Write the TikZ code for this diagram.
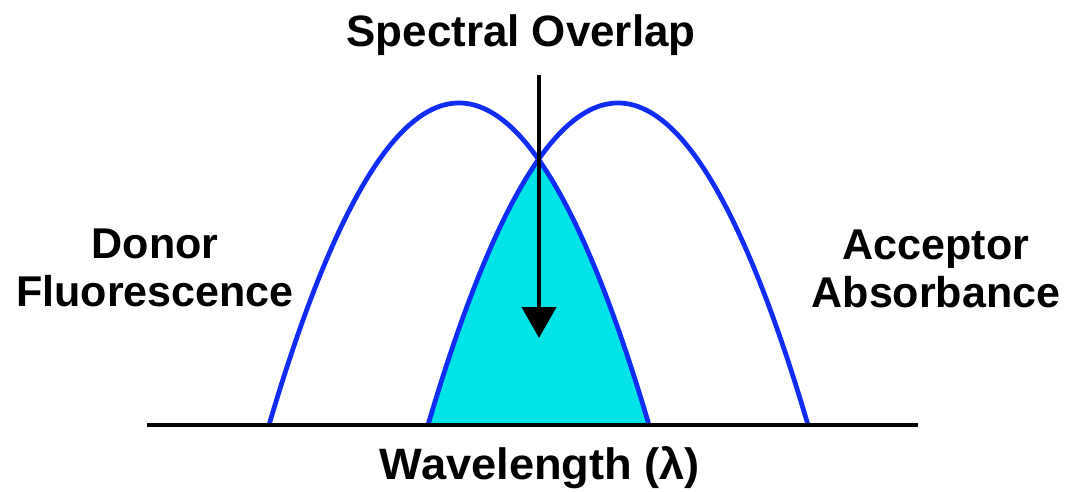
\documentclass[tikz,border=0pt]{standalone}
\usepackage{fontspec}
\setmainfont{Liberation Sans}
\usetikzlibrary{arrows.meta}
\definecolor{specblue}{RGB}{15,45,245}
\definecolor{overlapcyan}{RGB}{0,228,232}
\begin{document}
\begin{tikzpicture}[x=0.02cm,y=-0.02cm,
  spectrum/.style={draw=specblue, line width=2.7pt, line join=round},
  overlapfill/.style={fill=overlapcyan},
  axisline/.style={draw=black, line width=2pt},
  pointer/.style={draw=black, line width=2.5pt, -{Triangle[length=0.62cm,width=0.68cm]}},
  lbl/.style={font=\bfseries\fontsize{24.5}{27.3}\selectfont, align=center, inner sep=0pt},
  bigl/.style={font=\bfseries\fontsize{25}{29}\selectfont, inner sep=0pt}]
\useasboundingbox (0,0) rectangle (1070,492);
% overlap area
\fill[overlapfill] (428,425)
  -- plot[domain=428:539,samples=80] (\x,{425-322*(1-((\x-618)/190)^2)})
  -- plot[domain=539:650,samples=80] (\x,{425-322*(1-((\x-459)/191)^2)})
  -- cycle;
% spectra
\draw[spectrum] plot[domain=269:649,samples=150] (\x,{425-322*(1-((\x-459)/190)^2)});
\draw[spectrum] plot[domain=428:808,samples=150] (\x,{425-322*(1-((\x-618)/190)^2)});
% axis
\coordinate (axisL) at (147,425);
\coordinate (axisR) at (918,425);
\draw[axisline] (axisL) -- (axisR);
% labels
\node[bigl, anchor=base] (title) at (521,47) {Spectral Overlap};
\node[lbl] (donor) at (155,268) {Donor\\Fluorescence};
\node[lbl] (acceptor) at (936,269) {Acceptor\\Absorbance};
\node[bigl, anchor=base, xscale=1.03] (wavelength) at (540,479) {Wavelength (λ)};
% arrow
\coordinate (arrowstart) at (539,75);
\coordinate (arrowtip) at (539,338);
\draw[pointer] (arrowstart) -- (arrowtip);
\end{tikzpicture}
\end{document}
